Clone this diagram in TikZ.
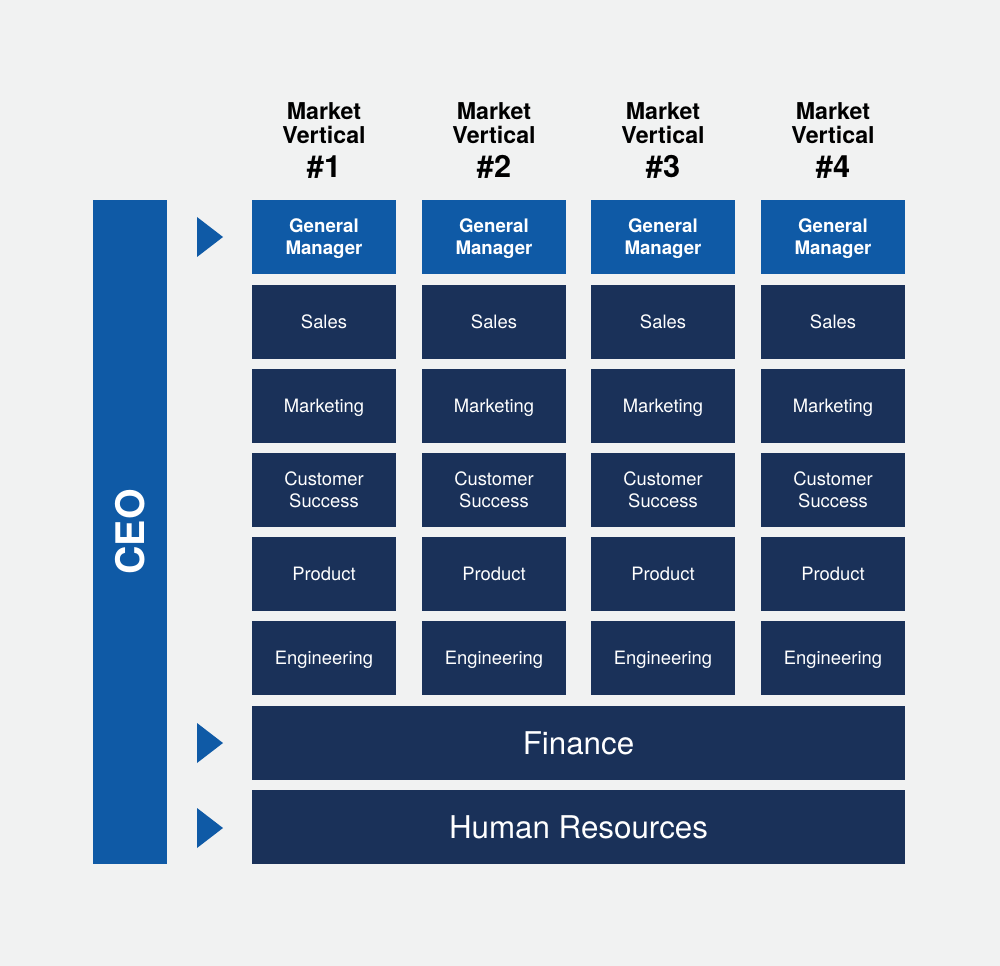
\documentclass[tikz,border=0pt]{standalone}
\usepackage{fontspec}
\setmainfont{TeX Gyre Heros}
\definecolor{bg}{HTML}{F1F2F2}
\definecolor{lblue}{HTML}{0F5AA6}
\definecolor{navy}{HTML}{1A3159}
\begin{document}
\begin{tikzpicture}[x=0.75pt,y=-0.75pt,
  cellbase/.style={fill=navy,text=white,minimum width=108pt,minimum height=55.5pt,inner sep=0pt,align=center,font=\fontsize{13.8}{16.5}\selectfont},
  cell/.style={cellbase,text height=9.9pt,text depth=0pt},
  gm/.style={fill=lblue,text=white,minimum width=108pt,minimum height=55.5pt,inner sep=0pt,align=center,text depth=0pt,font=\bfseries\fontsize{14}{16.5}\selectfont},
  wide/.style={fill=navy,text=white,minimum width=489.75pt,minimum height=55.5pt,inner sep=0pt,font=\fontsize{23.5}{26}\selectfont},
  hdr/.style={align=center,inner sep=0pt,font=\bfseries\fontsize{17.4}{18}\selectfont},
  arrowtri/.style={fill=lblue}]
\fill[bg] (0,0) rectangle (1000,966);
\useasboundingbox (0,0) rectangle (1000,966);
% CEO bar
\node[fill=lblue,minimum width=55.5pt,minimum height=498pt,inner sep=0pt] (ceo) at (130,532) {};
\node[rotate=90,text=white,font=\bfseries\fontsize{29.5}{30}\selectfont] (ceotxt) at (ceo.center) {CEO};
% columns
\foreach \i/\cx in {1/324,2/494,3/663,4/833}{
  \node[hdr] (h\i) at (\cx,123) {Market\\Vertical};
  \node[inner sep=0pt,font=\bfseries\fontsize{23}{24}\selectfont] (n\i) at (\cx,167) {\#\i};
  \node[gm] (gm\i) at (\cx,237) {General\\Manager};
  \node[cell] (s\i) at (\cx,322) {Sales};
  \node[cell] (m\i) at (\cx,406) {Marketing};
  \node[cellbase] (c\i) at (\cx,490) {Customer\\Success};
  \node[cell] (p\i) at (\cx,574) {Product};
  \node[cell] (e\i) at (\cx,658) {Engineering};
}
\node[wide] (fin) at (578.5,743) {Finance};
\node[wide] (hr) at (578.5,827) {Human Resources};
% triangles
\foreach \n/\y in {t1/237,t2/743,t3/828}{
  \coordinate (\n) at (210,\y);
  \fill[arrowtri] (197,\y-20) -- (223,\y) -- (197,\y+20) -- cycle;
}
\end{tikzpicture}
\end{document}
